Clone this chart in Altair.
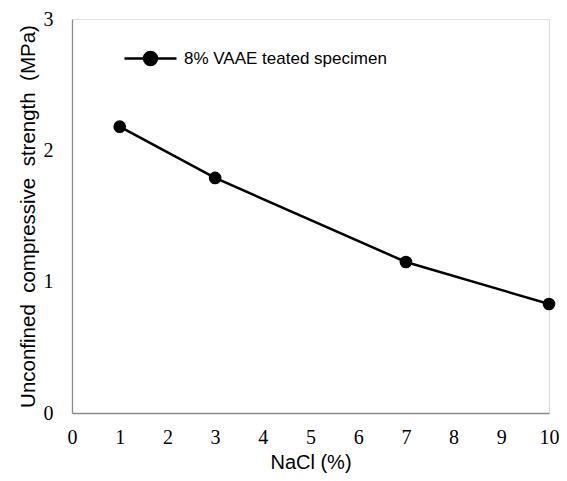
import altair as alt
import pandas as pd

nacl = [1, 3, 7, 10]
ucs = [2.18, 1.79, 1.15, 0.83]
series = "8% VAAE teated specimen"

df = pd.DataFrame({"NaCl": nacl, "UCS": ucs, "series": [series] * len(nacl)})

x = alt.X("NaCl:Q", title="NaCl (%)",
          scale=alt.Scale(domain=[0, 10], nice=False, zero=True),
          axis=alt.Axis(values=list(range(0, 11)), grid=False, ticks=False,
                        domainColor="#8c8c8c", domainWidth=1.3,
                        labelFont="Liberation Serif", labelFontSize=20, labelColor="black",
                        labelPadding=14, labelFlush=False,
                        titleFont="Liberation Sans", titleFontSize=20, titleFontWeight="normal",
                        titleColor="black", titlePadding=5))
y = alt.Y("UCS:Q", title="Unconfined\u00a0 compressive\u00a0 strength\u00a0 (MPa)",
          scale=alt.Scale(domain=[0, 3], nice=False),
          axis=alt.Axis(values=[0, 1, 2, 3], grid=False, ticks=False,
                        domainColor="#8c8c8c", domainWidth=1.3,
                        labelFont="Liberation Serif", labelFontSize=20, labelColor="black",
                        labelPadding=19, labelFlush=False,
                        titleFont="Liberation Sans", titleFontSize=20.5, titleFontWeight="normal",
                        titleColor="black", titlePadding=5))

sym = "M-1,0H1M-0.25,0A0.25,0.25 0 1,0 0.25,0A0.25,0.25 0 1,0 -0.25,0Z"

line = alt.Chart(df).mark_line(strokeWidth=2.5).encode(
    x=x, y=y,
    color=alt.Color("series:N", scale=alt.Scale(range=["black"]),
                    legend=alt.Legend(orient="none", legendX=51, legendY=12, title=None,
                                      symbolType=sym, symbolSize=2704, symbolStrokeWidth=2.5,
                                      symbolFillColor="black", symbolStrokeColor="black",
                                      labelFont="Liberation Sans", labelFontSize=17,
                                      labelColor="black", labelOffset=6, labelLimit=400,
                                      padding=0)))
pts = alt.Chart(df).mark_point(filled=True, size=160, opacity=1, color="black").encode(x=x, y=y)

chart = (line + pts).properties(
    width=477, height=394,
    autosize=alt.AutoSizeParams(type="none"),
    padding={"left": 64, "top": 11, "right": 10, "bottom": 60},
).configure_view(stroke=None).configure(background="white")

chart.save("out.html", embed_options={"renderer": "svg", "actions": False})
